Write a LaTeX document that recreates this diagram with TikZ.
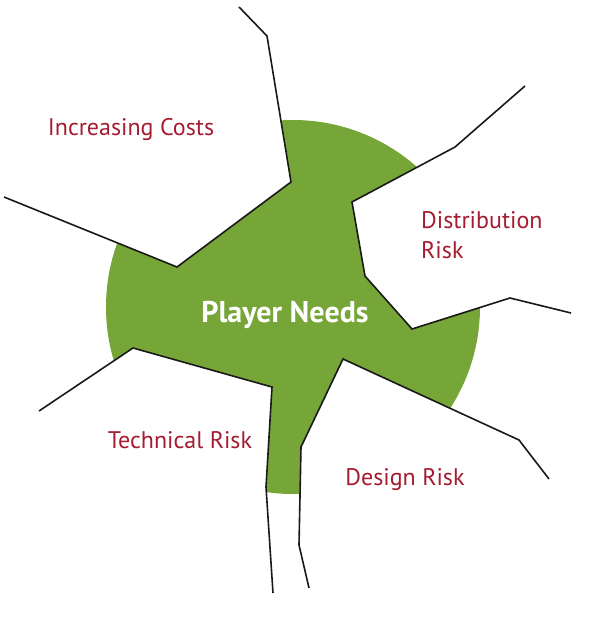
\documentclass[tikz,border=0pt]{standalone}
\usepackage{fontspec}
\setmainfont{PT Sans}
\usetikzlibrary{positioning}
\definecolor{needgreen}{HTML}{77A638}
\definecolor{riskred}{HTML}{A51C30}

\begin{document}
\begin{tikzpicture}[x=1pt, y=-1pt,
  risk/.style={font=\fontsize{24}{30}\selectfont, text=riskred, inner sep=0pt},
  core/.style={font=\fontsize{30}{32}\selectfont\bfseries, text=white, inner sep=0pt},
  cut/.style={line width=1.6pt, black!90}
]
  \useasboundingbox (0,0) rectangle (597,625);

  % corners of the five cuts
  \coordinate (a1) at (239,7);   \coordinate (a2) at (267,36);
  \coordinate (a3) at (291,182); \coordinate (a4) at (177,267);
  \coordinate (a5) at (4,197);
  \coordinate (c1) at (39,411);  \coordinate (c2) at (133,348);
  \coordinate (c3) at (272,387); \coordinate (c4) at (266,487);
  \coordinate (c5) at (273,593);
  \coordinate (d1) at (309,588); \coordinate (d2) at (299,545);
  \coordinate (d3) at (301,447); \coordinate (d4) at (343,359);
  \coordinate (d5) at (519,440); \coordinate (d6) at (549,479);
  \coordinate (b1) at (571,313); \coordinate (b2) at (510,298);
  \coordinate (b3) at (412,329); \coordinate (b4) at (365,276);
  \coordinate (b5) at (352,202); \coordinate (b6) at (455,147);
  \coordinate (b7) at (525,86);

  % green disc, cut down to the inner star
  \begin{scope}
    \clip (a1) -- (a2) -- (a3) -- (a4) -- (a5) -- (c1) -- (c2) -- (c3) -- (c4) -- (c5)
      -- (d1) -- (d2) -- (d3) -- (d4) -- (d5) -- (d6)
      -- (b1) -- (b2) -- (b3) -- (b4) -- (b5) -- (b6) -- (b7) -- cycle;
    \fill[needgreen] (293,307) circle[radius=187];
  \end{scope}

  \draw[cut] (a1) -- (a2) -- (a3) -- (a4) -- (a5);
  \draw[cut] (b1) -- (b2) -- (b3) -- (b4) -- (b5) -- (b6) -- (b7);
  \draw[cut] (c1) -- (c2) -- (c3) -- (c4) -- (c5);
  \draw[cut] (d1) -- (d2) -- (d3) -- (d4) -- (d5) -- (d6);

  \node[core, anchor=base] (needs) at (285,322) {Player Needs};
  \node[risk, anchor=base] (costs) at (131,135) {Increasing Costs};
  \node[risk, anchor=base west, align=left] (distrib) at (421,258) {Distribution\\Risk};
  \node[risk, anchor=base] (tech) at (180,448) {Technical Risk};
  \node[risk, anchor=base] (design) at (405,485) {Design Risk};
\end{tikzpicture}
\end{document}
